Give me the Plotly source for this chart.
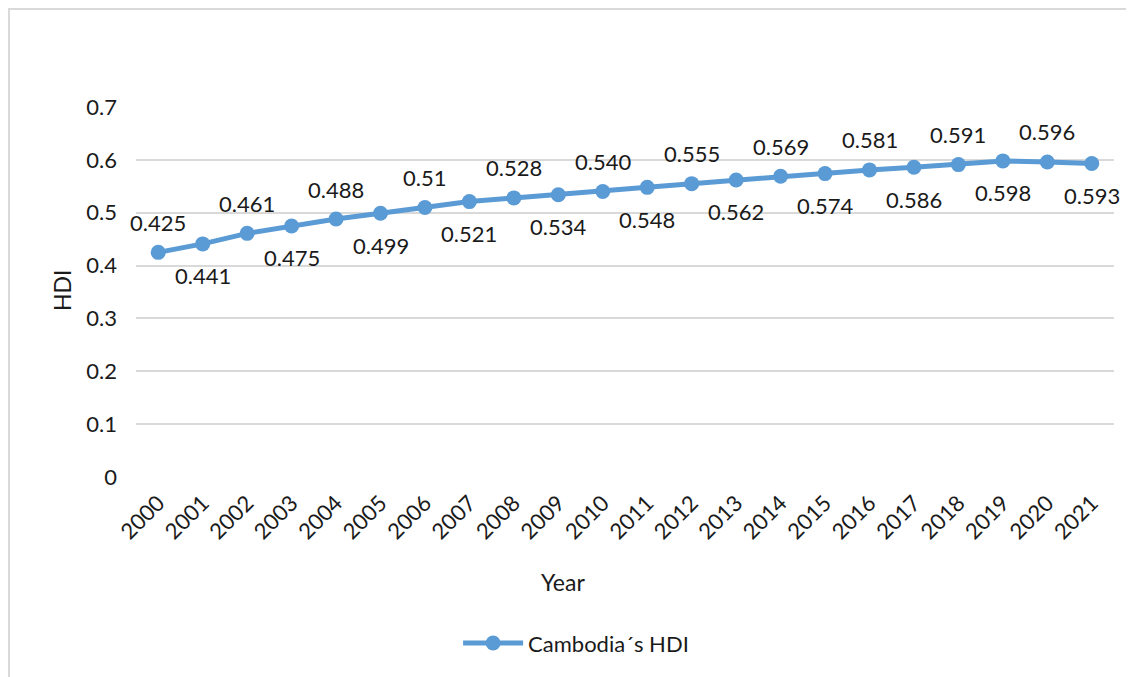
import plotly.graph_objects as go

years = list(range(2000, 2022))
hdi = [0.425, 0.441, 0.461, 0.475, 0.488, 0.499, 0.510, 0.521, 0.528, 0.534, 0.540,
       0.548, 0.555, 0.562, 0.569, 0.574, 0.581, 0.586, 0.591, 0.598, 0.596, 0.593]
labels = ["0.425", "0.441", "0.461", "0.475", "0.488", "0.499", "0.51", "0.521", "0.528",
          "0.534", "0.540", "0.548", "0.555", "0.562", "0.569", "0.574", "0.581", "0.586",
          "0.591", "0.598", "0.596", "0.593"]
y_ticks = [0, 0.1, 0.2, 0.3, 0.4, 0.5, 0.6, 0.7]
y_ticktext = ["0", "0.1", "0.2", "0.3", "0.4", "0.5", "0.6", "0.7"]

FONT = "Lato"
COLOR = "#5B9BD5"
TXT = "#1a1a1a"

fig = go.Figure()
fig.add_trace(go.Scatter(
    x=years, y=hdi, mode="lines+markers",
    name="Cambodia\u00b4s HDI",
    line=dict(color=COLOR, width=5),
    marker=dict(color=COLOR, size=15),
    cliponaxis=False,
))

annotations = []
for i, (yr, v, lab) in enumerate(zip(years, hdi, labels)):
    annotations.append(dict(
        x=yr, y=v, xref="x", yref="y", text=lab, showarrow=False,
        xanchor="center", yanchor="middle",
        yshift=30 if i % 2 == 0 else -32,
        font=dict(family=FONT, size=22, color=TXT)))

annotations += [
    dict(text="Year", xref="paper", yref="paper", x=0.437, y=-0.284,
         xanchor="center", yanchor="middle",
         showarrow=False, font=dict(family=FONT, size=23, color=TXT)),
    dict(text="HDI", xref="paper", yref="paper", x=-0.0757, y=0.505,
         xanchor="center", yanchor="middle",
         showarrow=False, textangle=-90, font=dict(family=FONT, size=23, color=TXT)),
]

fig.update_layout(
    width=1126, height=669,
    margin=dict(l=128, r=20, t=99, b=200),
    paper_bgcolor="white", plot_bgcolor="white",
    font=dict(family=FONT, size=22, color=TXT),
    showlegend=True,
    legend=dict(orientation="h", x=0.45, xanchor="center", y=-0.449, yanchor="middle",
                font=dict(family=FONT, size=22, color=TXT), itemwidth=60),
    xaxis=dict(range=[1999.5, 2021.5], tickvals=years, ticktext=[str(y) for y in years],
               tickangle=-45, showgrid=False, showline=False, zeroline=False,
               ticks="", automargin=False, ticklabelstandoff=8,
               tickfont=dict(family=FONT, size=22, color=TXT)),
    yaxis=dict(range=[0, 0.7], tickvals=y_ticks, ticktext=y_ticktext,
               showgrid=True, gridcolor="#d9d9d9", gridwidth=2,
               zeroline=False, showline=False, ticks="", ticklen=0, automargin=False,
               ticklabelstandoff=18,
               tickfont=dict(family=FONT, size=22, color=TXT)),
    annotations=annotations,
    shapes=[
        dict(type="rect", xref="paper", yref="paper", x0=-0.1299, x1=1.05,
             y0=-0.6, y1=1.265, line=dict(color="#d9d9d9", width=2), layer="below"),
    ],
)

fig.write_html("out.html")
